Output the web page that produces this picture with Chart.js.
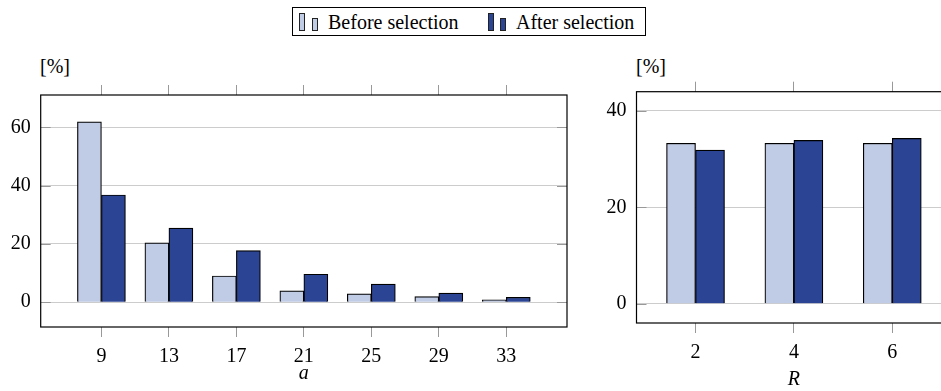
<!DOCTYPE html>
<html>
<head>
<meta charset="utf-8">
<script src="https://cdn.jsdelivr.net/npm/chart.js@4.4.0/dist/chart.umd.min.js"></script>
<style>
  body { margin: 0; width: 941px; height: 391px; overflow: hidden; background: #fff; position: relative;
         font-family: 'Liberation Serif', 'Times New Roman', Times, 'Nimbus Roman', 'Noto Serif', 'DejaVu Serif', serif; color: #000; }
  .abs { position: absolute; }
  .txt { font-size: 20px; line-height: 20px; white-space: nowrap; }
  .mk { box-sizing: border-box; border: 1px solid #222; width: 6px; }
  canvas { position: absolute; }
</style>
</head>
<body>
<!-- legende -->
<div class="abs" style="left:292px; top:7px; width:354px; height:29px; border:1px solid #000; box-sizing:border-box;"></div>
<div class="abs mk" style="left:299px; top:13px; height:18px; background:#C0CBE6;"></div>
<div class="abs mk" style="left:312px; top:18px; height:13px; background:#C0CBE6;"></div>
<div class="abs txt" style="left:328px; top:11.5px;">Before selection</div>
<div class="abs mk" style="left:488px; top:13px; height:18px; background:#2C4494;"></div>
<div class="abs mk" style="left:500px; top:18px; height:13px; background:#2C4494;"></div>
<div class="abs txt" style="left:516px; top:11.5px;">After selection</div>

<div class="abs txt" style="left:40px; top:56px;">[%]</div>
<div class="abs txt" style="left:636px; top:55.5px;">[%]</div>

<canvas id="chartA" width="590" height="351" style="left:0; top:40px; width:590px; height:351px;"></canvas>
<canvas id="chartR" width="370" height="351" style="left:590px; top:40px; width:370px; height:351px;"></canvas>

<script>
// dados
const aLabels = [9, 13, 17, 21, 25, 29, 33];
const aBefore = [61.9, 20.4, 9.0, 3.9, 2.9, 1.9, 0.8];
const aAfter = [36.8, 25.4, 17.7, 9.6, 6.2, 3.1, 1.7];
const aYTicks = [0, 20, 40, 60];

const rLabels = [2, 4, 6];
const rBefore = [33.3, 33.3, 33.3];
const rAfter = [31.9, 33.9, 34.3];
const rYTicks = [0, 20, 40];

const LIGHT = '#C0CBE6';
const DARK = '#2C4494';
const FAMILY = "'Liberation Serif', 'Times New Roman', Times, 'Nimbus Roman', 'Noto Serif', 'DejaVu Serif', serif";
const FONT = { family: FAMILY, size: 20 };

function pairs(xs, ys) {
  return xs.map((x, i) => ({ x: x, y: ys[i] }));
}

// moldura preta + marcas internas no eixo y
const frame = {
  id: 'frame',
  afterDraw(chart) {
    const { ctx, chartArea: a } = chart;
    const y = chart.scales.y;
    ctx.save();
    ctx.strokeStyle = '#999';
    ctx.lineWidth = 1;
    y.ticks.forEach(t => {
      const py = Math.round(y.getPixelForValue(t.value)) + 0.5;
      ctx.beginPath();
      ctx.moveTo(a.left, py); ctx.lineTo(a.left + 10, py);
      ctx.moveTo(a.right - 10, py); ctx.lineTo(a.right, py);
      ctx.stroke();
    });
    ctx.strokeStyle = '#000';
    ctx.lineWidth = 1.2;
    ctx.strokeRect(a.left, a.top, a.right - a.left, a.bottom - a.top);
    ctx.restore();
  }
};

function makeChart(id, cfg) {
  const setX = s => { s.ticks = cfg.xs.map(v => ({ value: v })); };
  const setY = s => { s.ticks = cfg.yTicks.map(v => ({ value: v })); };
  const tickGrid = { drawOnChartArea: false, tickLength: 10, color: '#999', offset: false };
  return new Chart(document.getElementById(id), {
    type: 'bar',
    data: {
      datasets: [
        { label: 'Before selection', data: pairs(cfg.xs, cfg.before), backgroundColor: LIGHT,
          borderColor: '#000', borderWidth: 1.2, barThickness: cfg.bar },
        { label: 'After selection', data: pairs(cfg.xs, cfg.after), backgroundColor: DARK,
          borderColor: '#000', borderWidth: 1.2, barThickness: cfg.bar }
      ]
    },
    options: {
      responsive: false,
      animation: false,
      layout: { padding: cfg.pad },
      plugins: { legend: { display: false }, tooltip: { enabled: false } },
      scales: {
        x: {
          type: 'linear', position: 'bottom', min: cfg.xmin, max: cfg.xmax, offset: false,
          afterBuildTicks: setX,
          afterFit: s => { s.height = cfg.xh; },
          grid: tickGrid,
          border: { display: false },
          ticks: { font: FONT, color: '#000', padding: 8, maxRotation: 0 },
          title: { display: true, text: cfg.title, color: '#000',
                   font: { family: FAMILY, size: 20, style: 'italic', lineHeight: 1 },
                   padding: { top: 0, bottom: cfg.tpad } }
        },
        x2: {
          type: 'linear', position: 'top', min: cfg.xmin, max: cfg.xmax, offset: false,
          afterBuildTicks: setX,
          afterFit: s => { s.height = 10; },
          grid: tickGrid,
          border: { display: false },
          ticks: { display: false }
        },
        y: {
          min: cfg.ymin, max: cfg.ymax,
          afterBuildTicks: setY,
          afterFit: s => { s.width = cfg.yw; },
          grid: { color: '#ccc', drawTicks: false },
          border: { display: false },
          ticks: { font: FONT, color: '#000', padding: 10 }
        }
      }
    },
    plugins: [frame]
  });
}

makeChart('chartA', {
  xs: aLabels, before: aBefore, after: aAfter, yTicks: aYTicks,
  xmin: 5.4, xmax: 36.6, ymin: -8.5, ymax: 71.1,
  bar: 24, yw: 40.7, xh: 64, tpad: 7.7, title: 'a',
  pad: { top: 45, right: 23, left: 0, bottom: 0 }
});

makeChart('chartR', {
  xs: rLabels, before: rBefore, after: rAfter, yTicks: rYTicks,
  xmin: 0.8, xmax: 7.2, ymin: -4, ymax: 44,
  bar: 29, yw: 46.5, xh: 68, tpad: 1, title: 'R',
  pad: { top: 41.7, right: 8.7, left: 0, bottom: 0 }
});
</script>
</body>
</html>
